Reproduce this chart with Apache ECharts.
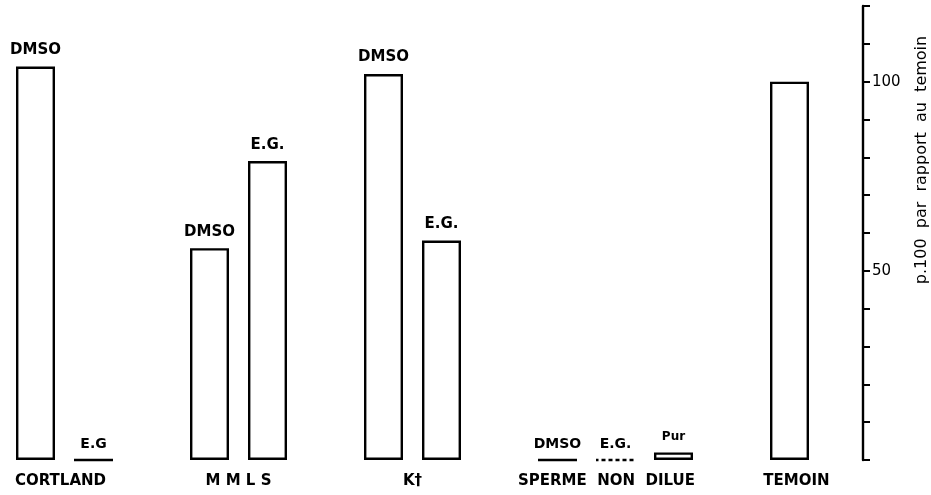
<!DOCTYPE html>
<html>
<head>
<meta charset="utf-8">
<script src="https://cdn.jsdelivr.net/npm/echarts@6/dist/echarts.min.js"></script>
<style>
html,body{margin:0;padding:0;background:#fff;}
#chart{width:931px;height:495px;}
</style>
</head>
<body>
<div id="chart"></div>
<script>
// ---- data ----
const groups = ['CORTLAND', 'M M L S', 'K†', 'SPERME  NON  DILUE', 'TEMOIN'];
const barGroup = [0, 0, 1, 1, 2, 2, 3, 3, 3, 4];
const barLabels = ['DMSO', 'E.G', 'DMSO', 'E.G.', 'DMSO', 'E.G.', 'DMSO', 'E.G.', 'Pur', ''];
const barValues = [104, 0, 56, 79, 102, 58, 0, 0, 2, 100];
const yTickLabels = [50, 100];
const axisName = 'p.100  par  rapport  au  temoin';

// ---- layout: one slot per bar, one empty slot between groups ----
const SLOT_PX = 58;
const BAR_W = 39;
const slotOf = [];
let s = 0;
for (let i = 0; i < barValues.length; i++) {
  if (i > 0) s += (barGroup[i] === barGroup[i - 1]) ? 1 : 2;
  slotOf.push(s);
}
const nSlots = s + 1;
const extraShift = { 0: -4, 3: -9, 4: 7 };   // fine label nudges (px)
const labelInfo = {};                         // slot -> {text, shift}
groups.forEach((g, gi) => {
  const sl = slotOf.filter((_, i) => barGroup[i] === gi);
  const c = (sl[0] + sl[sl.length - 1]) / 2;
  const f = Math.floor(c);
  labelInfo[f] = { text: g, shift: (c - f) * SLOT_PX + (extraShift[gi] || 0) };
});
const categories = [];
for (let k = 0; k < nSlots; k++) categories.push(labelInfo[k] ? labelInfo[k].text : '');

const rich = {};
const baseFont = { fontFamily: 'DejaVu Sans', fontWeight: 'bold', fontSize: 15, color: '#000' };
Object.keys(labelInfo).forEach(k => {
  const d = labelInfo[k].shift;
  rich['g' + k] = Object.assign({}, baseFont, {
    padding: d >= 0 ? [0, 0, 0, 2 * d] : [0, -2 * d, 0, 0]
  });
});

const dashedBars = [7];
const seriesData = new Array(nSlots).fill(null);
barValues.forEach((v, i) => {
  const item = { value: v, name: barLabels[i] };
  const dashed = dashedBars.includes(i);
  item.itemStyle = {
    color: '#fff',
    borderColor: '#000',
    borderWidth: 2.4,
    borderType: dashed ? [4, 3] : 'solid',
    borderDashOffset: dashed ? 1.5 : 0
  };
  if (barLabels[i] === 'Pur') item.label = { fontSize: 12, distance: 10 };
  else if (v === 0) item.label = { fontSize: 14, distance: 7 };
  seriesData[slotOf[i]] = item;
});

const chart = echarts.init(document.getElementById('chart'));
chart.setOption({
  backgroundColor: '#fff',
  animation: false,
  grid: { left: 6.5, right: 931 - 6.5 - SLOT_PX * nSlots, top: 6, bottom: 35, containLabel: false },
  xAxis: {
    type: 'category',
    data: categories,
    axisLine: { show: false },
    axisTick: { show: false },
    axisLabel: {
      interval: 0,
      margin: 14,
      color: '#000',
      fontFamily: 'DejaVu Sans',
      fontWeight: 'bold',
      fontSize: 15,
      formatter: function (v, idx) {
        if (!v) return '';
        return '{g' + idx + '|' + v + '}';
      },
      rich: rich
    }
  },
  yAxis: {
    type: 'value',
    position: 'right',
    offset: 44.5,
    min: 0,
    max: 120,
    interval: 10,
    splitLine: { show: false },
    axisLine: { show: true, lineStyle: { color: '#000', width: 2.4 } },
    axisTick: { show: true, inside: false, length: 7, lineStyle: { color: '#000', width: 2 } },
    axisLabel: {
      margin: 9,
      color: '#000',
      fontFamily: 'DejaVu Sans',
      fontSize: 15,
      formatter: function (v) { return yTickLabels.includes(v) ? String(v) : ''; }
    }
  },
  series: [{
    type: 'bar',
    data: seriesData,
    barWidth: BAR_W,
    label: {
      show: true,
      position: 'top',
      distance: 9,
      color: '#000',
      fontFamily: 'DejaVu Sans',
      fontWeight: 'bold',
      fontSize: 15,
      formatter: function (p) { return p.name || ''; }
    }
  }],
  graphic: [{
    type: 'text',
    x: 922,
    y: 160,
    rotation: Math.PI / 2,
    style: {
      text: axisName,
      fill: '#000',
      font: '16px "DejaVu Sans"',
      textAlign: 'center',
      textVerticalAlign: 'middle'
    }
  }]
});
</script>
</body>
</html>
